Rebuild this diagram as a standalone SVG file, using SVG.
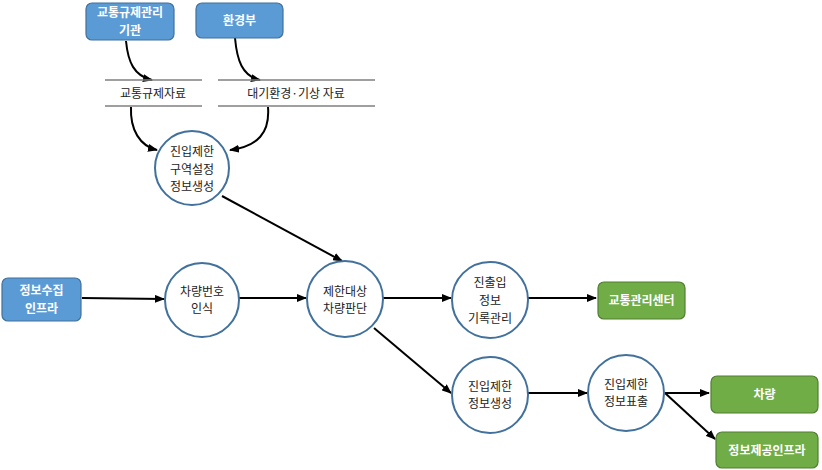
<svg xmlns="http://www.w3.org/2000/svg" width="822" height="470" viewBox="0 0 822 470">
<defs>
<marker id="ah" markerWidth="10" markerHeight="8" refX="9" refY="4" orient="auto" markerUnits="userSpaceOnUse">
<path d="M0,0 L10,4 L0,8 z" fill="#000"/>
</marker>
<style>
.blue{fill:#5B9BD5;stroke:#41719C;stroke-width:1.2}
.green{fill:#70AD47;stroke:#507E32;stroke-width:1.2}
.proc{fill:#fff;stroke:#41719C;stroke-width:2}
.bt{font-family:"Noto Sans CJK KR","Noto Sans",sans-serif;font-size:12px;font-weight:bold;fill:#fff;text-anchor:middle}
.ct{font-family:"Noto Sans CJK KR","Noto Sans",sans-serif;font-size:12px;fill:#222;text-anchor:middle}
.ds{stroke:#7f7f7f;stroke-width:1.5}
.cn{fill:none;stroke:#000;stroke-width:2;marker-end:url(#ah)}
</style>
</defs>
<rect width="822" height="470" fill="#fff"/>
<g id="connectors">
<path class="cn" d="M126,41 C128,62 134,76 152,80"/>
<path class="cn" d="M235,38 C237,60 242,76 260,80"/>
<path class="cn" d="M131,107 C130,130 140,146 157,150"/>
<path class="cn" d="M268,107 C270,133 258,146 230,150"/>
<path class="cn" d="M222,196 L342,261"/>
<path class="cn" d="M82,298 L164,299"/>
<path class="cn" d="M239,298 L306,298"/>
<path class="cn" d="M383,298 L451,298"/>
<path class="cn" d="M528,298 L596,298"/>
<path class="cn" d="M374,328 L451,393"/>
<path class="cn" d="M528,393 L587,393"/>
<path class="cn" d="M665,393 L709,393"/>
<path class="cn" d="M665,393 L715,439"/>
</g>
<g id="n-traffic-agency">
<rect class="blue" x="86" y="3" width="88" height="37" rx="6"/>
<text class="bt" x="130" y="17">교통규제관리</text>
<text class="bt" x="130" y="34.5">기관</text>
</g>
<g id="n-env">
<rect class="blue" x="196" y="3" width="87" height="35" rx="6"/>
<text class="bt" x="239.5" y="25">환경부</text>
</g>
<g id="ds-traffic">
<line class="ds" x1="105" y1="80" x2="202" y2="80"/>
<line class="ds" x1="105" y1="106" x2="202" y2="106"/>
<text class="ct" x="153" y="97.5">교통규제자료</text>
</g>
<g id="ds-env">
<line class="ds" x1="218" y1="80" x2="375" y2="80"/>
<line class="ds" x1="218" y1="106" x2="375" y2="106"/>
<text class="ct" x="296" y="97.5">대기환경·기상 자료</text>
</g>
<g id="p-zone">
<circle class="proc" cx="192" cy="168" r="37"/>
<text class="ct" x="192" y="156">진입제한</text>
<text class="ct" x="192" y="173.5">구역설정</text>
<text class="ct" x="192" y="191">정보생성</text>
</g>
<g id="n-collect">
<rect class="blue" x="2" y="278" width="79" height="43" rx="6"/>
<text class="bt" x="41.5" y="295">정보수집</text>
<text class="bt" x="41.5" y="312.5">인프라</text>
</g>
<g id="p-plate">
<circle class="proc" cx="202" cy="300" r="37"/>
<text class="ct" x="202" y="295.5">차량번호</text>
<text class="ct" x="202" y="313">인식</text>
</g>
<g id="p-judge">
<circle class="proc" cx="345" cy="299" r="38"/>
<text class="ct" x="345" y="295.5">제한대상</text>
<text class="ct" x="345" y="313">차량판단</text>
</g>
<g id="p-record">
<circle class="proc" cx="490" cy="300" r="38"/>
<text class="ct" x="490" y="287">진출입</text>
<text class="ct" x="490" y="305">정보</text>
<text class="ct" x="490" y="323">기록관리</text>
</g>
<g id="n-center">
<rect class="green" x="598" y="282" width="87" height="37" rx="6"/>
<text class="bt" x="641.5" y="305">교통관리센터</text>
</g>
<g id="p-gen">
<circle class="proc" cx="490" cy="395" r="38"/>
<text class="ct" x="490" y="390.5">진입제한</text>
<text class="ct" x="490" y="408">정보생성</text>
</g>
<g id="p-show">
<circle class="proc" cx="626" cy="393" r="38"/>
<text class="ct" x="626" y="388.5">진입제한</text>
<text class="ct" x="626" y="406">정보표출</text>
</g>
<g id="n-vehicle">
<rect class="green" x="711" y="376" width="107" height="37" rx="6"/>
<text class="bt" x="764.5" y="399">차량</text>
</g>
<g id="n-infra">
<rect class="green" x="716" y="432" width="102" height="36" rx="6"/>
<text class="bt" x="767" y="455">정보제공인프라</text>
</g>
</svg>
